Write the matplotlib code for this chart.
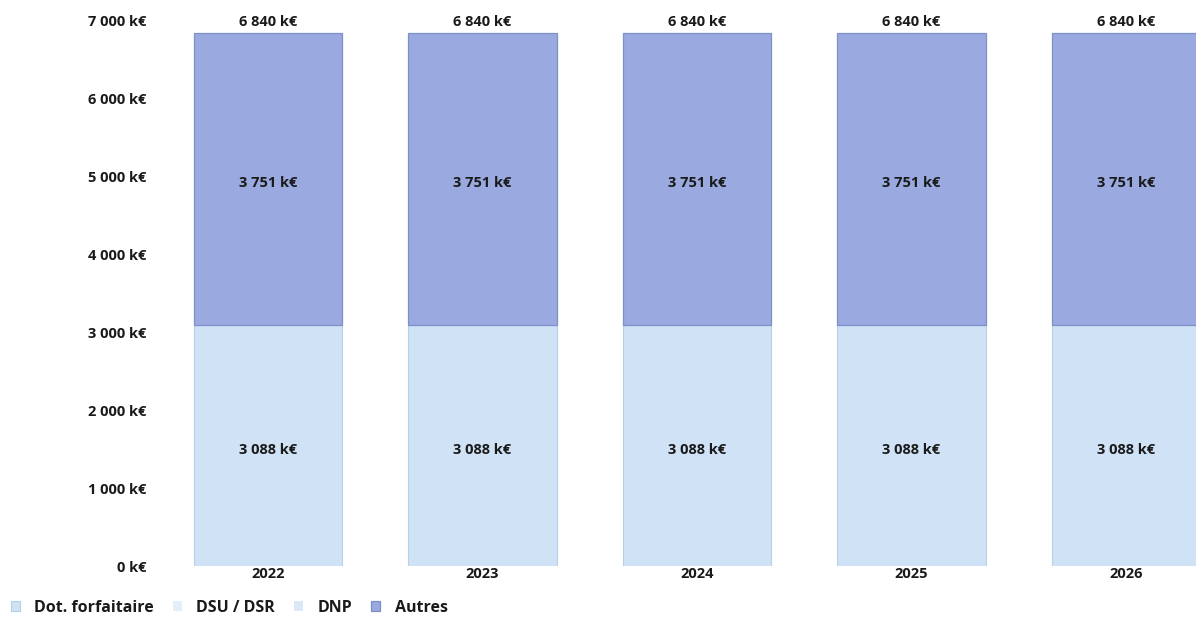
import matplotlib
matplotlib.use("Agg")
import matplotlib.pyplot as plt
import numpy as np

plt.rcParams['font.family'] = ['Open Sans', 'DejaVu Sans']

years = ["2022", "2023", "2024", "2025", "2026"]
dot_forfaitaire = [3088, 3088, 3088, 3088, 3088]
dsu_dsr = [0, 0, 0, 0, 0]
dnp = [0, 0, 0, 0, 0]
autres = [3751, 3751, 3751, 3751, 3751]
totals = [6840, 6840, 6840, 6840, 6840]
y_ticks = [0, 1000, 2000, 3000, 4000, 5000, 6000, 7000]

c_dot = "#cfe2f6"
c_dsu = "#e4eef8"
c_dnp = "#dbe8f6"
c_aut = "#9aa9e0"
txt = "#1a1a1a"
FS = 10.5


def fmt(v):
    return f"{v:,}".replace(",", " ") + " k€"


W, H = 1196, 627
fig = plt.figure(figsize=(W / 100, H / 100), dpi=100)
left_px, right_px = 160, W
bot_px, top_px = 566, 20
ax = fig.add_axes([left_px / W, 1 - bot_px / H,
                   (right_px - left_px) / W, (bot_px - top_px) / H])

x = np.arange(len(years))
width = 0.69
b0 = np.zeros(len(years))
ax.bar(x, dot_forfaitaire, width, bottom=b0, color=c_dot,
       edgecolor="#b9cfe6", linewidth=0.8, label="Dot. forfaitaire")
b0 = b0 + np.array(dot_forfaitaire)
ax.bar(x, dsu_dsr, width, bottom=b0, color=c_dsu, linewidth=0, label="DSU / DSR")
b0 = b0 + np.array(dsu_dsr)
ax.bar(x, dnp, width, bottom=b0, color=c_dnp, linewidth=0, label="DNP")
b0 = b0 + np.array(dnp)
ax.bar(x, autres, width, bottom=b0, color=c_aut,
       edgecolor="#7f8fc8", linewidth=0.9, label="Autres")

for i in range(len(years)):
    ax.text(x[i], dot_forfaitaire[i] / 2 - 55, fmt(dot_forfaitaire[i]),
            ha="center", va="center", fontsize=FS, fontweight="bold", color=txt)
    ax.text(x[i], dot_forfaitaire[i] + autres[i] / 2 - 50, fmt(autres[i]),
            ha="center", va="center", fontsize=FS, fontweight="bold", color=txt)
    ax.text(x[i], totals[i] + 50, fmt(totals[i]),
            ha="center", va="bottom", fontsize=FS, fontweight="bold", color=txt)

px_per_unit = 214.5
ax.set_xlim((left_px - 268) / px_per_unit, (right_px - 268) / px_per_unit)
ax.set_ylim(0, 7000)
ax.set_yticks(y_ticks)
ax.set_yticklabels([fmt(v) for v in y_ticks], fontsize=FS, fontweight="bold")
ax.set_xticks(x)
ax.set_xticklabels(years, fontsize=FS, fontweight="bold")
ax.tick_params(length=0, pad=10, colors=txt)
ax.tick_params(axis="x", pad=1)
for s in ax.spines.values():
    s.set_visible(False)

leg = fig.legend(loc="lower left", bbox_to_anchor=(0.0, 0.0), ncol=4,
                 frameon=False, prop={"weight": "bold", "size": 11.5},
                 handlelength=0.55, handleheight=0.55, handletextpad=0.9,
                 columnspacing=1.2, borderaxespad=0.3)
for t in leg.get_texts():
    t.set_color(txt)

fig.savefig("out.png", dpi=100)
